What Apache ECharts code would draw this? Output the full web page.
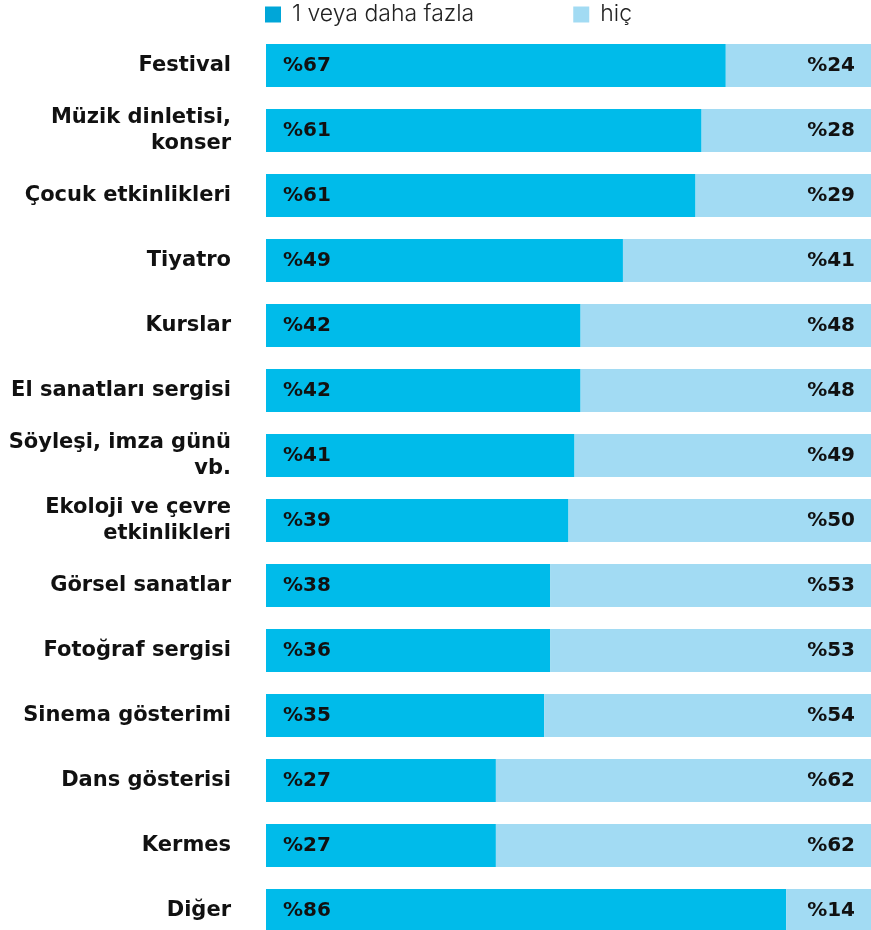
<!DOCTYPE html>
<html>
<head>
<meta charset="utf-8">
<script src="https://cdn.jsdelivr.net/npm/echarts@6/dist/echarts.min.js"></script>
<style>
  html, body { margin: 0; padding: 0; background: #fff; }
  #chart { width: 871px; height: 930px; }
</style>
</head>
<body>
<div id="chart"></div>
<script>
const categories = [
  'Festival',
  'Müzik dinletisi,\nkonser',
  'Çocuk etkinlikleri',
  'Tiyatro',
  'Kurslar',
  'El sanatları sergisi',
  'Söyleşi, imza günü\nvb.',
  'Ekoloji ve çevre\netkinlikleri',
  'Görsel sanatlar',
  'Fotoğraf sergisi',
  'Sinema gösterimi',
  'Dans gösterisi',
  'Kermes',
  'Diğer'
];
// "1 veya daha fazla" share (label value)
const fazla = [67, 61, 61, 49, 42, 42, 41, 39, 38, 36, 35, 27, 27, 86];
// "hiç" share
const hic = [24, 28, 29, 41, 48, 48, 49, 50, 53, 53, 54, 62, 62, 14];
const seriesNames = ['1 veya daha fazla', 'hiç'];

const BOLD_FONT = '"DejaVu Sans", sans-serif';
const LIGHT_FONT = 'Inter, "Noto Sans", sans-serif';
const DARK = '#00bbea';
const LIGHT = '#a2dbf3';

const chart = echarts.init(document.getElementById('chart'));

const valueLabel = {
  show: true,
  fontFamily: BOLD_FONT,
  fontSize: 20,
  fontWeight: 'bold',
  color: '#111'
};

chart.setOption({
  animation: false,
  legend: {
    top: 3,
    left: 265,
    padding: 0,
    itemWidth: 16,
    itemHeight: 16,
    itemGap: 99,
    icon: 'rect',
    textStyle: {
      fontFamily: LIGHT_FONT,
      fontSize: 23,
      fontWeight: 300,
      color: '#222',
      padding: [0, 0, 0, 6]
    },
    data: [
      {name: seriesNames[0], itemStyle: {color: '#00a6d8'}},
      {name: seriesNames[1], itemStyle: {color: LIGHT}}
    ]
  },
  grid: {
    left: 266,
    top: 33,
    width: 605,
    height: 910,
    containLabel: false,
    outerBoundsMode: 'none'
  },
  xAxis: {
    type: 'value',
    min: 0,
    max: 100,
    show: false
  },
  yAxis: {
    type: 'category',
    inverse: true,
    data: categories,
    axisLine: {show: false},
    axisTick: {show: false},
    axisLabel: {
      margin: 35,
      fontFamily: BOLD_FONT,
      fontSize: 21,
      fontWeight: 'bold',
      lineHeight: 26,
      color: '#111',
      align: 'right'
    }
  },
  series: [
    {
      name: seriesNames[0],
      type: 'bar',
      stack: 'total',
      barWidth: 43,
      itemStyle: {color: DARK},
      label: Object.assign({}, valueLabel, {
        position: 'insideLeft',
        distance: 17,
        formatter: p => '%' + fazla[p.dataIndex]
      }),
      data: hic.map(v => 100 - v)
    },
    {
      name: seriesNames[1],
      type: 'bar',
      stack: 'total',
      barWidth: 43,
      itemStyle: {color: LIGHT},
      label: Object.assign({}, valueLabel, {
        position: 'insideRight',
        distance: 16,
        formatter: p => '%' + p.value
      }),
      data: hic
    }
  ]
});
</script>
</body>
</html>
